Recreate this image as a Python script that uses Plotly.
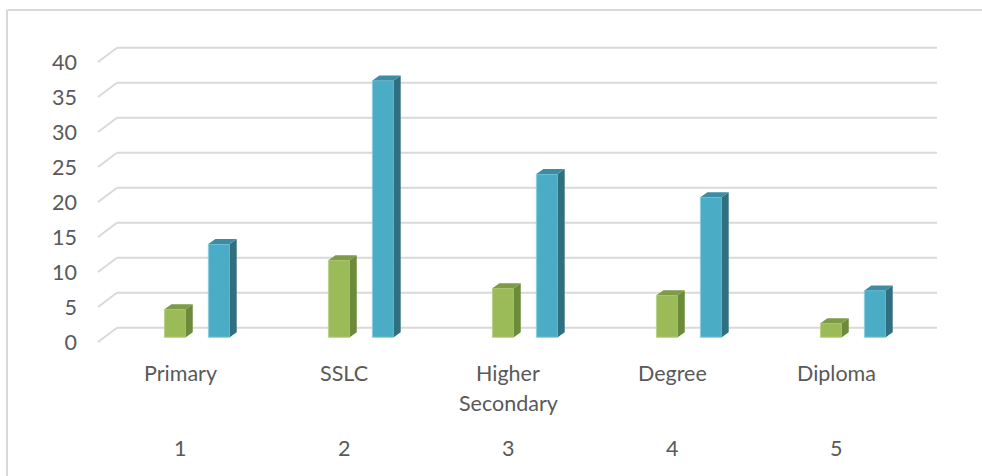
import plotly.graph_objects as go

categories = ["Primary", "SSLC", "Higher Secondary", "Degree", "Diploma"]
category_lines = [["Primary"], ["SSLC"], ["Higher", "Secondary"], ["Degree"], ["Diploma"]]
category_numbers = ["1", "2", "3", "4", "5"]
counts = [4, 11, 7, 6, 2]
percents = [13.33, 36.67, 23.33, 20.0, 6.67]
y_ticks = [0, 5, 10, 15, 20, 25, 30, 35, 40]

W, H = 982, 476
L, R, T, B = 90, 942, 44, 346
px_per_x = 164.0
px_per_y = 7.0
x0 = 0.5 - (98 - L) / px_per_x
x1 = x0 + (R - L) / px_per_x
y1 = (342 - T) / px_per_y
y0 = y1 - (B - T) / px_per_y

# depth offsets of the 3D wall (in data units)
depth_dx = 19 / px_per_x
depth_dy = 14.3 / px_per_y
bar_dx = 7 / px_per_x
bar_dy = 5 / px_per_y
bar_base = 0.67
bar_w = 0.13
offsets = [-0.095, 0.173]

GRID = "#d9d9d9"
TXT = "#595959"
FONT = "Lato"
FS = 21.5

fig = go.Figure()

shapes = []
for v in y_ticks:
    shapes.append(dict(type="line", xref="x", yref="y", x0=0.5, y0=v,
                       x1=0.5 + depth_dx, y1=v + depth_dy,
                       line=dict(color=GRID, width=2), layer="below"))
    shapes.append(dict(type="line", xref="x", yref="y", x0=0.5 + depth_dx, y0=v + depth_dy,
                       x1=5.5 + depth_dx, y1=v + depth_dy,
                       line=dict(color=GRID, width=2), layer="below"))

# chart border (left and top edges; the rest lies outside the picture)
px2paper_x = lambda p: (p - L) / (R - L)
px2paper_y = lambda p: (B - p) / (B - T)
shapes.append(dict(type="line", xref="paper", yref="paper",
                   x0=px2paper_x(7), x1=px2paper_x(7),
                   y0=px2paper_y(10), y1=px2paper_y(H),
                   line=dict(color=GRID, width=2), layer="below"))
shapes.append(dict(type="line", xref="paper", yref="paper",
                   x0=px2paper_x(7), x1=px2paper_x(W),
                   y0=px2paper_y(10), y1=px2paper_y(10),
                   line=dict(color=GRID, width=2), layer="below"))

series = [
    (counts, offsets[0], "#9bbb59", "#6b8a3a", "#7e9b48", "#b8d28a"),
    (percents, offsets[1], "#4bacc6", "#2f6f80", "#3c8da3", "#8ccfe0"),
]

xs = list(range(1, len(categories) + 1))
for vals, off, c_front, c_side, c_top, c_edge in series:
    fig.add_trace(go.Bar(x=xs, y=vals, base=[bar_base] * len(vals), width=bar_w, offset=off,
                         marker=dict(color=c_front, line=dict(color=c_edge, width=1)),
                         hoverinfo="skip", showlegend=False))
    sx, sy, tx, ty = [], [], [], []
    for x, v in zip(xs, vals):
        xl = x + off
        xr = xl + bar_w
        top = bar_base + v
        sx += [xr, xr, xr + bar_dx, xr + bar_dx, xr, None]
        sy += [bar_base, top, top + bar_dy, bar_base + bar_dy, bar_base, None]
        tx += [xl, xr, xr + bar_dx, xl + bar_dx, xl, None]
        ty += [top, top, top + bar_dy, top + bar_dy, top, None]
    fig.add_trace(go.Scatter(x=sx, y=sy, mode="lines", fill="toself", fillcolor=c_side,
                             line=dict(width=0, color=c_side), hoverinfo="skip", showlegend=False))
    fig.add_trace(go.Scatter(x=tx, y=ty, mode="lines", fill="toself", fillcolor=c_top,
                             line=dict(width=0, color=c_top), hoverinfo="skip", showlegend=False))

annotations = []
for x, lines, num in zip(xs, category_lines, category_numbers):
    for i, line in enumerate(lines):
        annotations.append(dict(x=x, y=px2paper_y(373 + 30 * i), xref="x", yref="paper",
                                text=line, showarrow=False, xanchor="center", yanchor="middle",
                                font=dict(family=FONT, size=FS, color=TXT)))
    annotations.append(dict(x=x, y=px2paper_y(448), xref="x", yref="paper",
                            text=num, showarrow=False, xanchor="center", yanchor="middle",
                            font=dict(family=FONT, size=FS, color=TXT)))

fig.update_layout(
    width=W, height=H,
    margin=dict(l=L, r=W - R, t=T, b=H - B, autoexpand=False),
    paper_bgcolor="white", plot_bgcolor="white",
    barmode="overlay",
    shapes=shapes, annotations=annotations,
    xaxis=dict(range=[x0, x1], showgrid=False, zeroline=False, showticklabels=False,
               showline=False, fixedrange=True),
    yaxis=dict(range=[y0, y1], showgrid=False, zeroline=False, showline=False,
               tickmode="array", tickvals=y_ticks, ticktext=[str(v) for v in y_ticks],
               ticks="", ticklabelstandoff=12,
               tickfont=dict(family=FONT, size=FS, color=TXT), fixedrange=True),
    font=dict(family=FONT, color=TXT),
)

fig.write_html("out.html", config={"displayModeBar": False})
